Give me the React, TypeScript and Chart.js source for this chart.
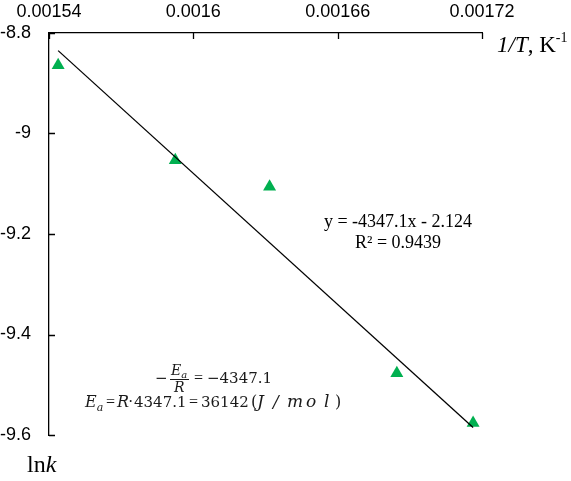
import React, { useEffect, useRef } from "react";
import { Chart, registerables } from "chart.js";

Chart.register(...registerables);

// ---- data ----
const invT = [0.0015438, 0.0015925, 0.0016317, 0.0016846, 0.0017163];
const lnk = [-8.864, -9.053, -9.106, -9.477, -9.576];
const trendSlope = -4347.1;
const trendIntercept = -2.124;
const xTicks = [0.00154, 0.0016, 0.00166, 0.00172];
const yTicks = [-8.8, -9, -9.2, -9.4, -9.6];
const equationText = "y = -4347.1x - 2.124";
const r2Text = "R\u00B2 = 0.9439";

const SERIF = '"Liberation Serif", "Times New Roman", serif';
const MATH = '"DejaVu Serif", "Liberation Serif", serif';
const SANS = '"Liberation Sans", Arial, sans-serif';

type Run = { t: string; font: string; x?: number; y: number };

function drawRuns(ctx: CanvasRenderingContext2D, runs: Run[]) {
  let cx = 0;
  for (const r of runs) {
    ctx.font = r.font;
    const x = r.x !== undefined ? r.x : cx;
    ctx.fillText(r.t, x, r.y);
    cx = x + ctx.measureText(r.t).width;
  }
}

const decorPlugin = {
  id: "decor",
  afterDraw(chart: any) {
    const ctx: CanvasRenderingContext2D = chart.ctx;
    const xs = chart.scales.x;
    const ys = chart.scales.y;
    const area = chart.chartArea;
    ctx.save();
    // inward tick marks
    ctx.strokeStyle = "#000";
    ctx.lineWidth = 1.3;
    ctx.beginPath();
    for (const v of xTicks) {
      const px = Math.round(xs.getPixelForValue(v)) + 0.5;
      ctx.moveTo(px, area.top);
      ctx.lineTo(px, area.top + 6);
    }
    for (const v of yTicks) {
      const py = Math.round(ys.getPixelForValue(v)) + 0.5;
      ctx.moveTo(area.left, py);
      ctx.lineTo(area.left + 6, py);
    }
    ctx.stroke();

    ctx.fillStyle = "#000";
    ctx.textBaseline = "middle";
    ctx.textAlign = "left";

    // axis titles
    drawRuns(ctx, [
      { t: "1/T", font: `italic 23px ${SERIF}`, x: 497, y: 46 },
      { t: ", K", font: `23px ${SERIF}`, y: 46 },
      { t: "-1", font: `14px ${SERIF}`, y: 38 },
    ]);
    drawRuns(ctx, [
      { t: "ln", font: `24px ${SERIF}`, x: 27, y: 466 },
      { t: "k", font: `italic 24px ${SERIF}`, y: 466 },
    ]);

    // trendline equation
    ctx.textAlign = "center";
    ctx.font = `18px ${SERIF}`;
    ctx.fillText(equationText, 398, 222);
    ctx.fillText(r2Text, 398, 243);

    // Arrhenius formulas
    ctx.textAlign = "left";
    ctx.fillStyle = "#1a1a1a";
    const eq = `16px ${SERIF}`;
    const num = `15px ${MATH}`;
    const it = `italic 16px ${MATH}`;
    const it17 = `italic 17px ${MATH}`;
    const par = `16px ${MATH}`;
    drawRuns(ctx, [
      { t: "\u2212", font: num, x: 155, y: 379 },
      { t: "E", font: `italic 14px ${MATH}`, x: 171, y: 371 },
      { t: "a", font: `italic 10px ${MATH}`, y: 375 },
      { t: "R", font: `italic 14px ${MATH}`, x: 174, y: 388 },
      { t: "=", font: eq, x: 194, y: 379 },
      { t: "\u22124347.1", font: num, x: 207, y: 379 },
    ]);
    ctx.strokeStyle = "#1a1a1a";
    ctx.lineWidth = 1;
    ctx.beginPath();
    ctx.moveTo(170, 379.5);
    ctx.lineTo(189, 379.5);
    ctx.stroke();

    drawRuns(ctx, [
      { t: "E", font: it, x: 85, y: 403 },
      { t: "a", font: `italic 11px ${MATH}`, y: 408 },
      { t: "=", font: eq, x: 106, y: 403 },
      { t: "R", font: it, x: 117, y: 403 },
      { t: "\u00B7", font: eq, x: 128, y: 403 },
      { t: "4347.1", font: num, x: 134, y: 403 },
      { t: "=", font: eq, x: 189, y: 403 },
      { t: "36142", font: num, x: 201, y: 403 },
      { t: "(", font: par, x: 251, y: 403 },
      { t: "J", font: it17, x: 257, y: 403 },
      { t: "/", font: it17, x: 273, y: 403 },
      { t: "m", font: it17, x: 287, y: 403 },
      { t: "o", font: it17, x: 306, y: 403 },
      { t: "l", font: it17, x: 324, y: 403 },
      { t: ")", font: par, x: 335, y: 403 },
    ]);
    ctx.restore();
  },
};

export default function App() {
  const ref = useRef<HTMLCanvasElement | null>(null);

  useEffect(() => {
    if (!ref.current) return;
    const points = invT.map((x, i) => ({ x, y: lnk[i] }));
    const ends = [invT[0], invT[invT.length - 1]];
    const trend = ends.map((x) => ({ x, y: trendSlope * x + trendIntercept }));

    const chart = new Chart(ref.current, {
      type: "scatter",
      data: {
        datasets: [
          {
            label: "trend",
            data: trend,
            showLine: true,
            borderColor: "#000",
            borderWidth: 1.3,
            pointRadius: 0,
            fill: false,
          } as any,
          {
            label: "lnk",
            data: points,
            pointStyle: "triangle",
            pointRadius: 7.5,
            pointHoverRadius: 7.5,
            backgroundColor: "#00B050",
            borderColor: "#00B050",
            borderWidth: 0,
          },
        ],
      },
      options: {
        responsive: false,
        animation: false,
        events: [],
        clip: false as any,
        layout: { padding: { left: 0, top: 0, right: 89, bottom: 46 } },
        plugins: {
          legend: { display: false },
          tooltip: { enabled: false },
          title: { display: false },
        },
        scales: {
          x: {
            type: "linear",
            position: "top",
            min: xTicks[0],
            max: xTicks[xTicks.length - 1],
            afterBuildTicks: (s: any) => {
              s.ticks = xTicks.map((value) => ({ value }));
            },
            afterFit: (s: any) => {
              s.height = 33;
            },
            grid: { display: false, drawTicks: false },
            border: { display: true, color: "#000", width: 1.3 },
            ticks: {
              padding: 10,
              color: "#000",
              font: { family: SANS, size: 18 },
              maxRotation: 0,
              autoSkip: false,
              callback: (v: any) => String(+Number(v).toFixed(5)),
            },
          },
          y: {
            type: "linear",
            position: "left",
            min: yTicks[yTicks.length - 1],
            max: yTicks[0],
            afterBuildTicks: (s: any) => {
              s.ticks = yTicks.map((value) => ({ value }));
            },
            afterFit: (s: any) => {
              s.width = 49;
            },
            grid: { display: false, drawTicks: false },
            border: { display: true, color: "#000", width: 1.3 },
            ticks: {
              padding: 18,
              color: "#000",
              font: { family: SANS, size: 18 },
              autoSkip: false,
              callback: (v: any) => String(Math.round(Number(v) * 10) / 10),
            },
          },
        },
      },
      plugins: [decorPlugin],
    });
    return () => chart.destroy();
  }, []);

  return (
    <div style={{ position: "fixed", left: 0, top: 0, width: 571, height: 481, background: "#fff" }}>
      <canvas ref={ref} width={571} height={481} style={{ display: "block", width: 571, height: 481 }} />
    </div>
  );
}
